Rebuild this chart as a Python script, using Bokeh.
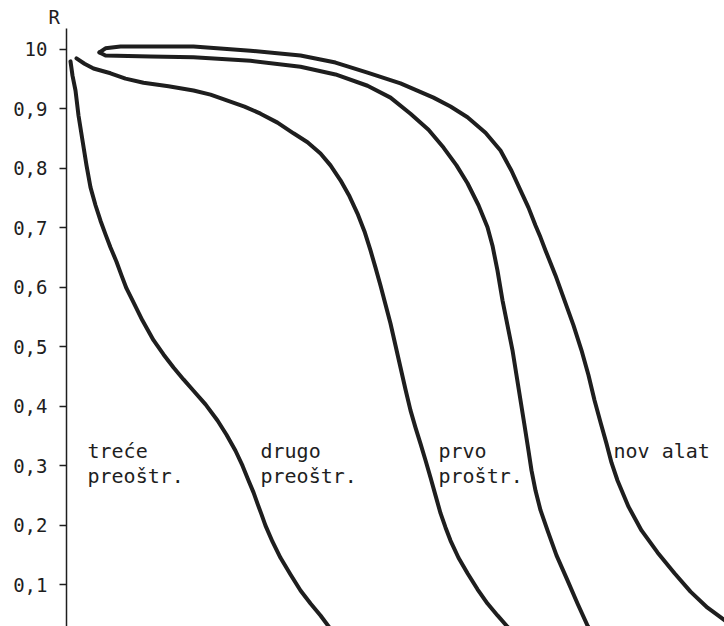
from bokeh.plotting import figure
from bokeh.models import Range1d, FixedTicker
from bokeh.core.properties import value
from bokeh.embed import file_html
from bokeh.resources import INLINE

# ---- data (x: arbitrary time units, 0..658 across the plot; y: R) ----
trece_x = [4, 6, 9, 12, 16, 20, 24, 29, 34, 39, 44, 50, 55, 60, 66, 76, 87, 97, 107, 117,
           127, 139, 151, 160, 169, 176, 182, 187, 191, 195, 199, 206, 214, 224, 234,
           244, 254, 269]
trece_y = [0.980, 0.956, 0.931, 0.889, 0.847, 0.805, 0.768, 0.738, 0.712, 0.689, 0.667,
           0.643, 0.620, 0.598, 0.578, 0.544, 0.511, 0.487, 0.465, 0.445, 0.426, 0.403,
           0.376, 0.352, 0.325, 0.300, 0.275, 0.255, 0.236, 0.218, 0.199, 0.172, 0.145,
           0.117, 0.090, 0.068, 0.048, 0.014]

drugo_x = [10, 18, 27, 44, 59, 77, 102, 127, 144, 161, 178, 194, 211, 227, 241, 254, 264,
           274, 283, 291, 298, 304, 309, 314, 319, 324, 329, 334, 339, 344, 349, 354, 359,
           364, 369, 374, 379, 384, 392, 401, 411, 421, 431, 441, 454]
drugo_y = [0.985, 0.976, 0.968, 0.960, 0.951, 0.944, 0.938, 0.931, 0.924, 0.914, 0.904,
           0.892, 0.877, 0.859, 0.844, 0.825, 0.805, 0.780, 0.753, 0.724, 0.694, 0.662,
           0.633, 0.603, 0.571, 0.539, 0.502, 0.465, 0.428, 0.393, 0.364, 0.337, 0.309,
           0.280, 0.250, 0.220, 0.196, 0.174, 0.145, 0.119, 0.092, 0.068, 0.048, 0.029,
           0.006]

prvo_x = [33, 39, 84, 127, 184, 234, 269, 301, 324, 344, 362, 377, 390, 401, 412, 421,
          426, 431, 436, 441, 446, 450, 454, 458, 462, 465, 469, 474, 481, 490, 501, 511,
          521, 531]
prvo_y = [0.995, 0.990, 0.988, 0.987, 0.981, 0.971, 0.958, 0.939, 0.919, 0.892, 0.865,
          0.835, 0.805, 0.775, 0.738, 0.701, 0.670, 0.628, 0.578, 0.536, 0.494, 0.452,
          0.410, 0.368, 0.325, 0.292, 0.258, 0.225, 0.191, 0.149, 0.107, 0.068, 0.031,
          0.006]

nov_x = [33, 39, 54, 94, 127, 184, 234, 269, 301, 334, 367, 384, 401, 419, 434, 445, 454,
         462, 469, 474, 479, 489, 498, 507, 515, 522, 528, 534, 540, 545, 551, 562, 575,
         591, 608, 624, 641, 658, 674]
nov_y = [0.995, 1.002, 1.005, 1.005, 1.005, 0.998, 0.990, 0.978, 0.961, 0.943, 0.919,
         0.904, 0.886, 0.860, 0.830, 0.796, 0.763, 0.734, 0.704, 0.684, 0.662, 0.620,
         0.578, 0.536, 0.494, 0.452, 0.410, 0.373, 0.337, 0.305, 0.275, 0.231, 0.191,
         0.154, 0.119, 0.088, 0.061, 0.040, 0.019]

series_line1 = ["treće", "drugo", "prvo", "nov alat"]
series_line2 = ["preoštr.", "preoštr.", "proštr.", ""]

y_ticks = [0.1, 0.2, 0.3, 0.4, 0.5, 0.6, 0.7, 0.8, 0.9, 1.0]
y_tick_labels = ["0,1", "0,2", "0,3", "0,4", "0,5", "0,6", "0,7", "0,8", "0,9", "10"]
y_axis_title = "R"

# ---- figure ----
FONT = "DejaVu Sans Mono"
INK = "#1e1e1e"

p = figure(width=724, height=626, output_backend="svg", toolbar_location=None,
           x_range=Range1d(0, 658), y_range=Range1d(0.0294, 1.0353),
           x_axis_location=None, min_border_left=66, min_border_right=0,
           min_border_top=28, min_border_bottom=0, title=y_axis_title)
p.outline_line_color = None
p.grid.visible = False
p.background_fill_color = "white"
p.border_fill_color = "white"

p.title.align = "left"
p.title.offset = -18
p.title.standoff = 2
p.title.text_font = FONT
p.title.text_font_size = "19px"
p.title.text_font_style = "normal"
p.title.text_color = INK

ax = p.yaxis[0]
ax.ticker = FixedTicker(ticks=y_ticks)
ax.major_label_overrides = {t: l for t, l in zip(y_ticks, y_tick_labels)}
ax.minor_tick_line_color = None
ax.major_tick_in = 0
ax.major_tick_out = 7
ax.major_tick_line_width = 1.5
ax.major_tick_line_color = INK
ax.axis_line_width = 1.5
ax.axis_line_color = INK
ax.major_label_standoff = 12
ax.major_label_text_font = FONT
ax.major_label_text_font_size = "19px"
ax.major_label_text_color = INK

for xs, ys in [(trece_x, trece_y), (drugo_x, drugo_y), (prvo_x, prvo_y), (nov_x, nov_y)]:
    p.line(xs, ys, line_width=4, line_color=INK, line_join="round", line_cap="round")

# curve labels
label_x = [21, 194, 372, 547]
p.text(x=label_x, y=[0.324] * 4, text=series_line1, text_font=value(FONT),
       text_font_size="20px", text_color=INK, text_baseline="alphabetic", text_align="left")
p.text(x=label_x, y=[0.282] * 4, text=series_line2, text_font=value(FONT),
       text_font_size="20px", text_color=INK, text_baseline="alphabetic", text_align="left")

open("out.html", "w").write(file_html(p, INLINE))
